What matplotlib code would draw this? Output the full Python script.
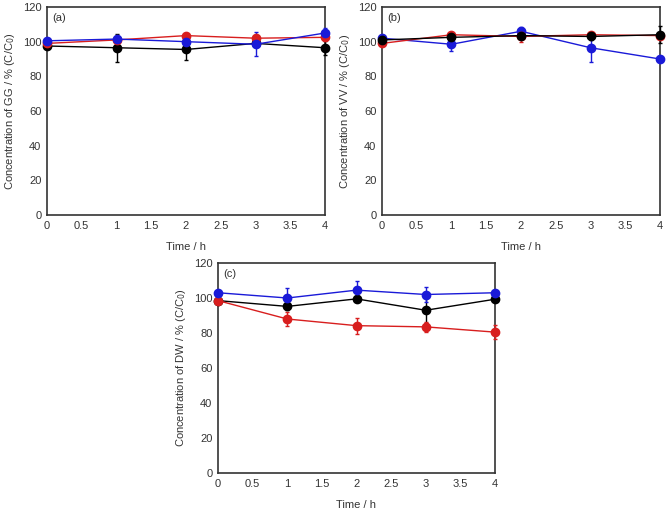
import matplotlib
matplotlib.use("Agg")
import matplotlib.pyplot as plt

plt.rcParams['font.family'] = ['Liberation Sans', 'DejaVu Sans']

time_h = [0, 1, 2, 3, 4]

# Panel (a) GG
gg_black = [97.5, 96.5, 95.5, 99.0, 96.5]
gg_black_err = [1.0, 8.0, 6.0, 1.0, 4.0]
gg_red = [99.0, 101.0, 103.5, 102.0, 102.5]
gg_red_err = [1.0, 1.0, 1.0, 1.0, 1.0]
gg_blue = [100.5, 101.5, 100.0, 98.5, 105.0]
gg_blue_err = [1.0, 2.0, 1.0, 7.0, 3.0]

# Panel (b) VV
vv_black = [101.0, 102.5, 103.5, 103.0, 104.0]
vv_black_err = [1.5, 1.0, 1.5, 2.0, 5.0]
vv_red = [99.0, 104.0, 103.0, 104.0, 103.5]
vv_red_err = [1.0, 1.0, 3.0, 1.5, 1.0]
vv_blue = [102.0, 98.5, 106.0, 96.5, 90.0]
vv_blue_err = [1.0, 4.0, 2.5, 8.0, 0.5]

# Panel (c) DW
dw_black = [98.5, 95.2, 99.5, 93.0, 99.3]
dw_black_err = [1.0, 2.0, 1.0, 7.0, 1.0]
dw_red = [98.5, 88.0, 84.2, 83.5, 80.5]
dw_red_err = [1.0, 4.0, 4.5, 3.0, 4.0]
dw_blue = [103.0, 100.0, 104.5, 102.0, 103.0]
dw_blue_err = [1.0, 5.5, 5.0, 4.5, 1.0]

x_ticks = [0, 0.5, 1, 1.5, 2, 2.5, 3, 3.5, 4]
x_ticklabels = ['0', '0.5', '1', '1.5', '2', '2.5', '3', '3.5', '4']
y_ticks = [0, 20, 40, 60, 80, 100, 120]

RED = '#d81e1e'
BLUE = '#1a1ad8'
panels = [
    ('(a)', 'GG', [(gg_black, gg_black_err, 'black'), (gg_red, gg_red_err, RED), (gg_blue, gg_blue_err, BLUE)]),
    ('(b)', 'VV', [(vv_blue, vv_blue_err, BLUE), (vv_red, vv_red_err, RED), (vv_black, vv_black_err, 'black')]),
    ('(c)', 'DW', [(dw_black, dw_black_err, 'black'), (dw_red, dw_red_err, RED), (dw_blue, dw_blue_err, BLUE)]),
]

W, H = 669, 514
boxes = [(47, 7, 325, 215), (382, 7, 660, 215), (218, 263, 495, 473)]

fig = plt.figure(figsize=(W / 100, H / 100), dpi=100)
for (label, name, series), (x0, y0, x1, y1) in zip(panels, boxes):
    ax = fig.add_axes([x0 / W, (H - y1) / H, (x1 - x0) / W, (y1 - y0) / H])
    for vals, errs, col in series:
        ax.errorbar(time_h, vals, yerr=errs, color=col, marker='o', markersize=6,
                    linewidth=1.0, elinewidth=1.0, capsize=1.5, clip_on=False, zorder=3)
    ax.set_xlim(0, 4)
    ax.set_ylim(0, 120)
    ax.set_xticks(x_ticks)
    ax.set_xticklabels(x_ticklabels)
    ax.set_yticks(y_ticks)
    ax.tick_params(length=0, labelsize=8, pad=4, colors='#333333')
    for s in ax.spines.values():
        s.set_linewidth(1.2)
        s.set_color('#333333')
    ax.set_xlabel('Time / h', fontsize=8, labelpad=8, color='#333333')
    ax.set_ylabel('Concentration of %s / %% (C/C$_0$)' % name, fontsize=8, labelpad=4, color='#333333')
    ax.text(0.02, 0.97, label, transform=ax.transAxes, fontsize=8, va='top', ha='left', color='#333333')

fig.savefig('out.png', dpi=100)
